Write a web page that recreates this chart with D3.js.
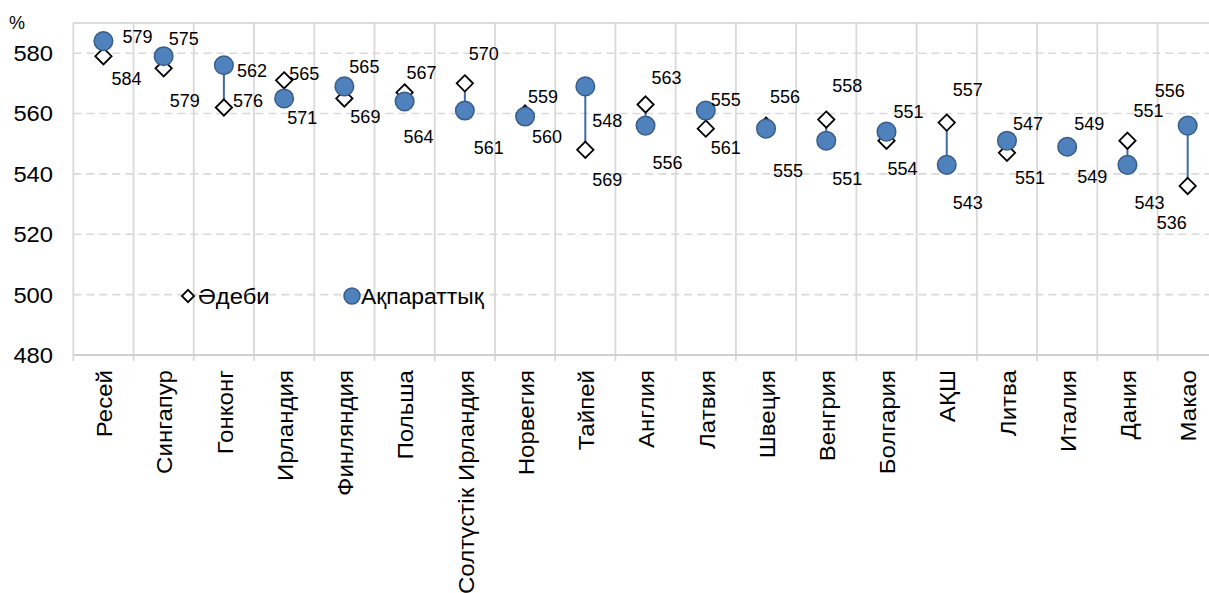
<!DOCTYPE html>
<html>
<head>
<meta charset="utf-8">
<script src="https://cdn.jsdelivr.net/npm/d3@7"></script>
<style>
  body { margin: 0; background: #fff; }
  svg { display: block; font-family: "Liberation Sans", Arial, sans-serif; }
</style>
</head>
<body>
<div id="chart"></div>
<script>
// categories and the two series
const countries = ["Ресей", "Сингапур", "Гонконг", "Ирландия", "Финляндия", "Польша",
    "Солтүстік Ирландия", "Норвегия", "Тайпей", "Англия", "Латвия", "Швеция",
    "Венгрия", "Болгария", "АҚШ", "Литва", "Италия", "Дания", "Макао"];
const literary = [579, 575, 562, 571, 565, 567, 570, 560, 548, 563, 555, 556, 558, 551, 557, 547, 549, 551, 536];
const informational = [584, 579, 576, 565, 569, 564, 561, 559, 569, 556, 561, 555, 551, 554, 543, 551, 549, 543, 556];
const yTicks = [480, 500, 520, 540, 560, 580];

// label nudges in px (the labels in the original are placed by hand)
const circleLabelNudge = [[19,-5],[5,-18],[13,5],[3,19],[5,-20],[2,-29],[4,-57],[7,20],[7,34],[6,-48],
    [5,-11],[4,-32],[6,-55],[7,-20],[6,-75],[6,-17],[7,-23],[6,-54],[-31,97]];
const diamondLabelNudge = [[8,22],[6,32],[9,-7],[5,-7],[6,18],[-1,44],[9,64],[3,-17],[7,30],[7,58],
    [5,19],[7,45],[6,59],[1,28],[6,80],[8,25],[10,30],[7,62],[-33,-95]];

const data = countries.map((c, i) => ({
    country: c, lit: literary[i], inf: informational[i],
    cn: circleLabelNudge[i], dn: diamondLabelNudge[i]
}));

const W = 1209, H = 593;
const margin = {top: 23, left: 73.3, bottom: 355};
const plotRight = 1217.8; // plot runs past the right edge in the original

const svg = d3.select("#chart").append("svg")
    .attr("width", W).attr("height", H);

const x = d3.scaleBand().domain(countries).range([margin.left, plotRight]);
const y = d3.scaleLinear().domain([480, 590]).range([margin.bottom, margin.top]);

const grid = svg.append("g");

// horizontal dashed gridlines
grid.selectAll("line.h")
    .data(yTicks.filter(d => d > 480))
    .enter().append("line")
    .attr("class", "h")
    .attr("x1", margin.left).attr("x2", plotRight)
    .attr("y1", d => y(d)).attr("y2", d => y(d))
    .attr("stroke", "#d9d9d9").attr("stroke-width", 1.6)
    .attr("stroke-dasharray", "8,5");

// vertical lines between categories (with small ticks below the axis)
const bounds = countries.map(c => x(c)).concat([plotRight]);
grid.selectAll("line.v")
    .data(bounds)
    .enter().append("line")
    .attr("class", "v")
    .attr("x1", d => d).attr("x2", d => d)
    .attr("y1", margin.top).attr("y2", margin.bottom + 6)
    .attr("stroke", "#d9d9d9").attr("stroke-width", 1.8);

// top border and bottom axis line
grid.append("line")
    .attr("x1", margin.left).attr("x2", plotRight)
    .attr("y1", margin.top).attr("y2", margin.top)
    .attr("stroke", "#d0d0d0").attr("stroke-width", 1.6);
grid.append("line")
    .attr("x1", margin.left).attr("x2", plotRight)
    .attr("y1", margin.bottom).attr("y2", margin.bottom)
    .attr("stroke", "#d0d0d0").attr("stroke-width", 2);

// y axis labels (text in the original is a little wider than Arial)
svg.selectAll("text.ytick")
    .data(yTicks)
    .enter().append("text")
    .attr("class", "ytick")
    .attr("transform", d => "translate(53," + y(d) + ") scale(1.08,1)")
    .attr("dy", "0.36em")
    .attr("text-anchor", "end")
    .style("font-size", "22px")
    .text(d => d);

svg.append("text")
    .attr("x", 9).attr("y", 29)
    .style("font-size", "18px")
    .text("%");

// category labels, rotated
svg.selectAll("text.cat")
    .data(countries)
    .enter().append("text")
    .attr("class", "cat")
    .attr("transform", d => "translate(" + (x(d) + x.bandwidth() / 2 + 1) + "," + 370 + ") rotate(-90) scale(1.12,1)")
    .attr("dy", "0.36em")
    .attr("text-anchor", "end")
    .style("font-size", "21.5px")
    .text(d => d);

const cx = d => x(d.country) + x.bandwidth() / 2;

// connecting lines
svg.selectAll("line.link")
    .data(data)
    .enter().append("line")
    .attr("class", "link")
    .attr("x1", cx).attr("x2", cx)
    .attr("y1", d => y(d.lit)).attr("y2", d => y(d.inf))
    .attr("stroke", "#3f6ba4").attr("stroke-width", 2);

const diamond = d3.symbol().type(d3.symbolDiamond2).size(170);

// literary: diamonds
svg.selectAll("path.lit")
    .data(data)
    .enter().append("path")
    .attr("class", "lit")
    .attr("d", diamond)
    .attr("transform", d => "translate(" + cx(d) + "," + y(d.lit) + ")")
    .attr("fill", "#fff").attr("stroke", "#000").attr("stroke-width", 1.8);

// informational: circles
svg.selectAll("circle.inf")
    .data(data)
    .enter().append("circle")
    .attr("class", "inf")
    .attr("cx", cx).attr("cy", d => y(d.inf))
    .attr("r", 9.3)
    .attr("fill", "#4f81bd").attr("stroke", "#385d8a").attr("stroke-width", 1.5);

// data labels (in the original the circle carries the literary figure and vice versa)
svg.selectAll("text.clab")
    .data(data)
    .enter().append("text")
    .attr("class", "clab")
    .attr("x", d => cx(d) + d.cn[0])
    .attr("y", d => y(d.inf) + d.cn[1])
    .attr("dy", "0.36em")
    .style("font-size", "18px")
    .text(d => d.lit);

svg.selectAll("text.dlab")
    .data(data)
    .enter().append("text")
    .attr("class", "dlab")
    .attr("x", d => cx(d) + d.dn[0])
    .attr("y", d => y(d.lit) + d.dn[1])
    .attr("dy", "0.36em")
    .style("font-size", "18px")
    .text(d => d.inf);

// legend
const legend = svg.append("g");
legend.append("path")
    .attr("d", d3.symbol().type(d3.symbolDiamond2).size(95))
    .attr("transform", "translate(188,296)")
    .attr("fill", "#fff").attr("stroke", "#000").attr("stroke-width", 1.8);
legend.append("text")
    .attr("transform", "translate(198,296) scale(1.08,1)")
    .attr("dy", "0.36em")
    .style("font-size", "22px")
    .text("Әдеби");
legend.append("circle")
    .attr("cx", 352).attr("cy", 296).attr("r", 8)
    .attr("fill", "#4f81bd").attr("stroke", "#385d8a").attr("stroke-width", 1.5);
legend.append("text")
    .attr("transform", "translate(361,296) scale(1.04,1)")
    .attr("dy", "0.36em")
    .style("font-size", "22px")
    .text("Ақпараттық");
</script>
</body>
</html>
